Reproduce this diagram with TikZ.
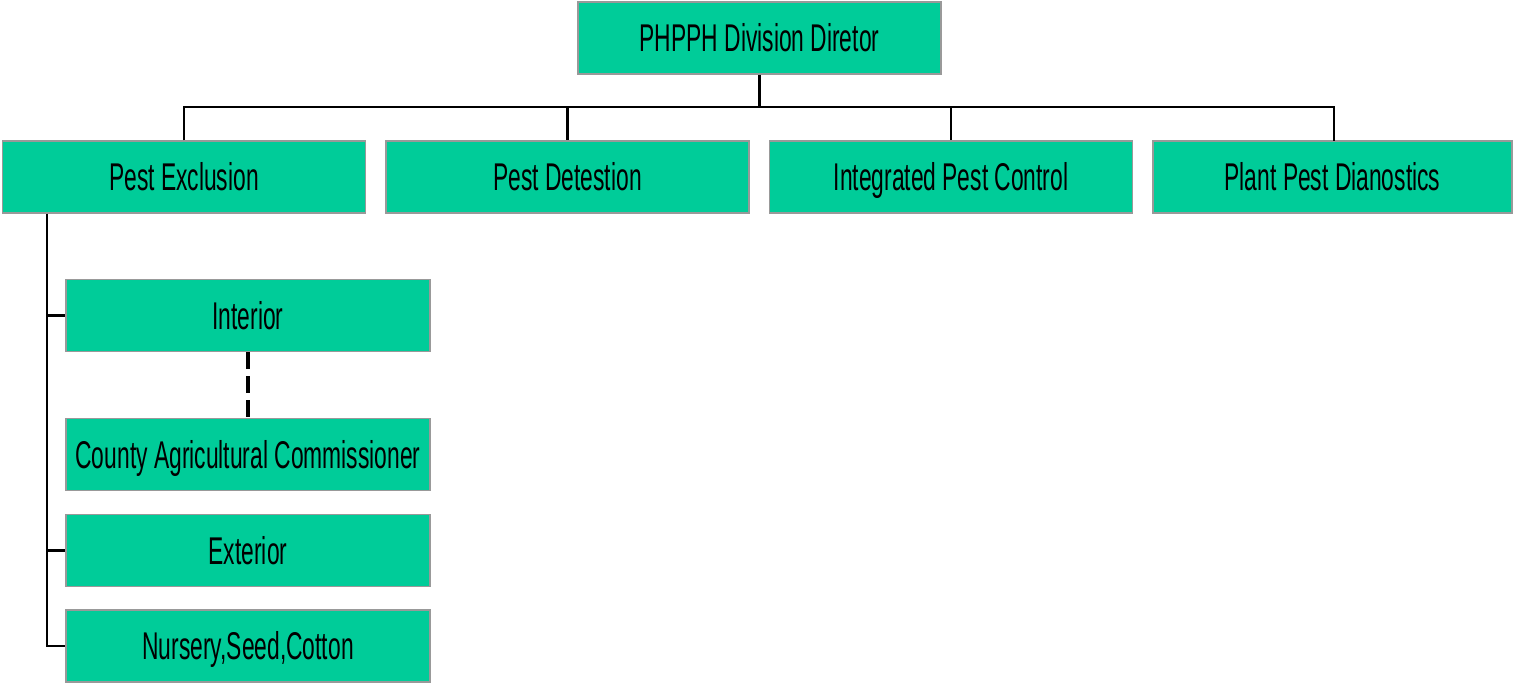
\documentclass[tikz,border=0pt]{standalone}
\usepackage{fontspec}
\setmainfont{Liberation Sans}[FakeStretch=0.59]
\definecolor{boxfill}{HTML}{00CC99}
\definecolor{boxline}{HTML}{999999}
\begin{document}
\begin{tikzpicture}[x=0.01cm,y=-0.01cm,
  unit/.style={draw=boxline,line width=0.4pt,fill=boxfill,minimum width=3.63cm,minimum height=0.72cm,inner sep=0pt,text height=7.9pt,text depth=0pt,font=\fontsize{11}{12}\selectfont,text=black},
  link/.style={line width=0.6pt,draw=black}]
\useasboundingbox (0,0) rectangle (1513,682);
\node[unit] (top) at (759.5,38) {PHPPH Division Diretor};
\node[unit] (pe) at (184,177) {Pest Exclusion};
\node[unit] (pd) at (567.5,177) {Pest Detestion};
\node[unit] (ipc) at (951,177) {Integrated Pest Control};
\node[unit,minimum width=3.59cm] (ppd) at (1332.5,177) {Plant Pest Dianostics};
\node[unit,minimum width=3.64cm] (int) at (248,315.5) {Interior};
\node[unit,minimum width=3.64cm] (cac) at (248,454.5) {County Agricultural Commissioner};
\node[unit,minimum width=3.64cm] (ext) at (248,550.5) {Exterior};
\node[unit,minimum width=3.64cm] (nur) at (248,646) {Nursery,Seed,Cotton};
\coordinate (bus) at (0,107);
\coordinate (spine) at (47,0);
\draw[link] (top.south) -- (top.south |- bus);
\draw[link] (pe.north) |- (1334,107) -- (1334,141);
\draw[link] (top.south |- bus) -| (pd.north);
\draw[link] (top.south |- bus) -| (ipc.north);
\draw[link] (pe.south -| spine) |- (nur.west);
\draw[link] (spine |- int.west) -- (int.west);
\draw[link] (spine |- ext.west) -- (ext.west);
\draw[line width=0.9pt,dash pattern=on 4.8pt off 2pt] (int.south) -- (cac.north);
\end{tikzpicture}
\end{document}
